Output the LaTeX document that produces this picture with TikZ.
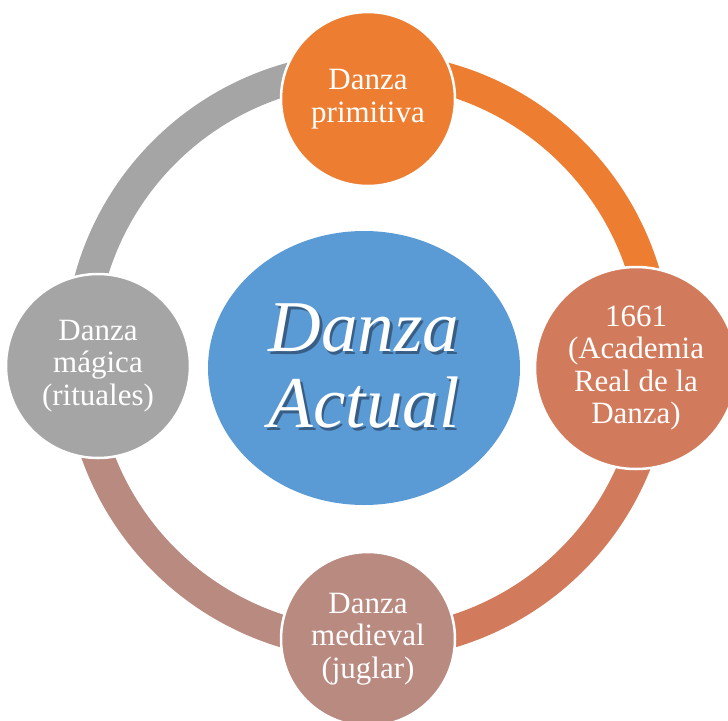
\documentclass[tikz,border=0pt]{standalone}
\usepackage{fontspec}
\setmainfont{Liberation Serif}
\usetikzlibrary{shapes.geometric}
\definecolor{dzorange}{HTML}{ED7D31}
\definecolor{dzrust}{RGB}{210,123,92}
\definecolor{dzmauve}{RGB}{185,138,128}
\definecolor{dzgray}{HTML}{A5A5A5}
\definecolor{dzblue}{HTML}{5B9BD5}
\definecolor{dzshade}{RGB}{57,94,134}
\newcommand{\dzshadow}[1]{\leavevmode\rlap{\kern2.5pt\raisebox{-3pt}{\textcolor{dzshade}{#1}}}#1}

\begin{document}
\begin{tikzpicture}[x=1pt, y=-1pt,
            stage/.style={circle, draw=white, line width=2.5pt, text=white, align=center, inner sep=0pt, font=\fontsize{31}{32.5}\selectfont},
            band/.style={line width=32pt},
            big/.style={align=center, text=white, font=\fontsize{73}{76}\selectfont\itshape}]
            \useasboundingbox (0,0) rectangle (728,720);
            \clip (0,0) rectangle (728,720);

            \coordinate (n) at (368,68);
            \coordinate (e) at (656,356);
            \coordinate (s) at (368,644);
            \coordinate (w) at (80,356);

            \draw[band, dzorange] (n) to[bend left=45] (e);
            \draw[band, dzrust] (e) to[bend left=45] (s);
            \draw[band, dzmauve] (s) to[bend left=45] (w);
            \draw[band, dzgray] (w) to[bend left=45] (n);

            \node[stage, fill=dzorange, minimum size=174pt] (p) at (368,99) {Danza\\primitiva};
            \node[stage, fill=dzrust, minimum size=202pt] (r) at (636,368) {1661\\(Academia\\Real de la\\Danza)};
            \node[stage, fill=dzmauve, minimum size=174pt] (m) at (368,639) {Danza\\medieval\\(juglar)};
            \node[stage, fill=dzgray, minimum size=184pt] (g) at (98,366) {Danza\\mágica\\(rituales)};

            \node[ellipse, fill=dzblue, minimum width=312pt, minimum height=274pt, inner sep=0pt] (c) at (364,368) {};
            \node[big] (ct) at (c) {\dzshadow{Danza}\\\dzshadow{Actual}};
\end{tikzpicture}
\end{document}
